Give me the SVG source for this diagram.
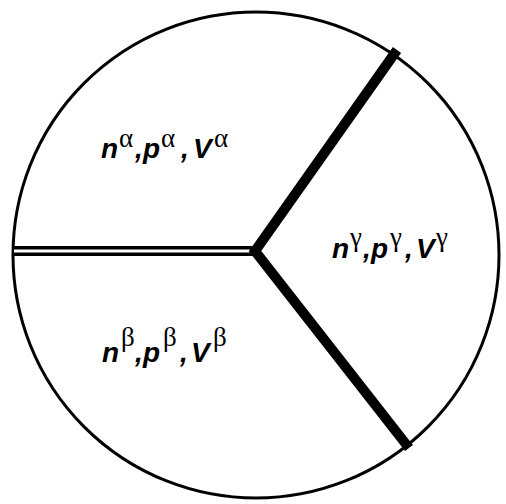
<svg xmlns="http://www.w3.org/2000/svg" width="506" height="504" viewBox="0 0 506 504">
<style>
.m{font-family:"Liberation Sans",Arial,sans-serif;font-weight:bold;font-style:italic;font-size:28px;fill:#000}
.s{font-family:"Liberation Serif","Times New Roman",serif;font-weight:normal;font-style:normal;font-size:27px;fill:#000}
</style>
<rect width="506" height="504" fill="#fff"/>
<g id="connectors">
<circle cx="256" cy="255" r="243" fill="none" stroke="#000" stroke-width="3"/>
<line x1="14" y1="251" x2="253" y2="251" stroke="#000" stroke-width="10"/>
<line x1="14" y1="251" x2="250" y2="251" stroke="#fff" stroke-width="3"/>
<polyline points="397,50 255,251 409,448" fill="none" stroke="#000" stroke-width="10" stroke-linejoin="miter"/>
</g>
<g id="alpha">
<text class="m" y="158"><tspan x="101">n</tspan><tspan class="s" x="119" y="147">α</tspan><tspan x="135" y="158">,</tspan><tspan x="143">p</tspan><tspan class="s" x="161" y="147">α</tspan><tspan x="181" y="158">,</tspan><tspan x="193">V</tspan><tspan class="s" x="214" y="147">α</tspan></text>
</g>
<g id="beta">
<text class="m" y="362"><tspan x="102">n</tspan><tspan class="s" x="121" y="346">β</tspan><tspan x="135" y="362">,</tspan><tspan x="143">p</tspan><tspan class="s" x="163" y="346">β</tspan><tspan x="180" y="362">,</tspan><tspan x="191">V</tspan><tspan class="s" x="213" y="346">β</tspan></text>
</g>
<g id="gamma">
<text class="m" y="258"><tspan x="332">n</tspan><tspan class="s" x="350" y="246">γ</tspan><tspan x="363" y="258">,</tspan><tspan x="371">p</tspan><tspan class="s" x="390" y="246">γ</tspan><tspan x="405" y="258">,</tspan><tspan x="416">V</tspan><tspan class="s" x="436" y="246">γ</tspan></text>
</g>
</svg>
